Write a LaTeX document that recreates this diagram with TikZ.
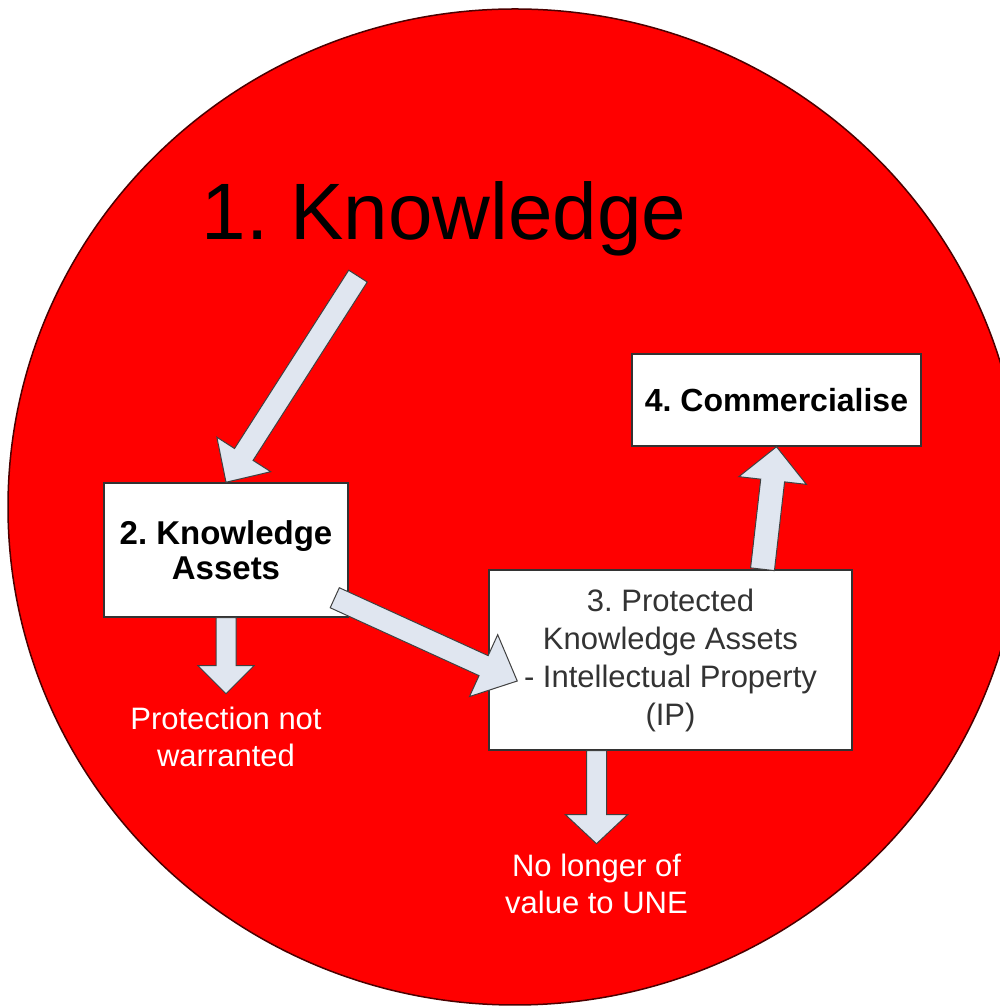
\documentclass[tikz,border=0pt]{standalone}
\usepackage{fontspec}
\setmainfont{Liberation Sans}
\usetikzlibrary{calc,positioning}
\frenchspacing

\definecolor{arrowfill}{HTML}{E0E6F0}
\definecolor{boxtext}{HTML}{333333}

% block arrow: from, to, shaft half width, head half width, head length
\newcommand{\blockarrow}[5]{%
  \coordinate (hb) at ($(#2)!#5!(#1)$);
  \draw[arrowbody] ($(#1)!#3!90:(#2)$) -- ($(hb)!#3!90:(#2)$)
    -- ($(hb)!#4!90:(#2)$) -- (#2) -- ($(hb)!#4!-90:(#2)$)
    -- ($(hb)!#3!-90:(#2)$) -- ($(#1)!#3!-90:(#2)$) -- cycle;
}

\begin{document}
\begin{tikzpicture}[x=1pt, y=1pt,
  box/.style={draw=black!80, line width=1.5pt, fill=white, align=center},
  arrowbody/.style={draw=black!75, line width=1pt, fill=arrowfill, line join=miter},
  outtext/.style={text=white, align=center, font=\fontsize{31}{37}\selectfont}]
  \useasboundingbox (0,0) rectangle (1000,1007);
  \clip (0,0) rectangle (1000,1007);
  \filldraw[fill=red, draw=black!70!red, line width=1.5pt] (515,500) ellipse [x radius=507, y radius=498];

  \node (know) [anchor=base, font=\fontsize{80}{82}\selectfont] at (444,767) {1. Knowledge};
  \node (kassets) [box, minimum width=244pt, minimum height=134pt,
    font=\bfseries\fontsize{33}{35}\selectfont] at (226,457) {2. Knowledge\\Assets};
  \node (ip) [box, minimum width=363pt, minimum height=180pt, text=boxtext,
    font=\fontsize{31}{38}\selectfont] at (670.5,347)
    {3. Protected\\Knowledge Assets\\- Intellectual Property\\(IP)};
  \node (comm) [box, minimum width=289pt, minimum height=92pt,
    font=\bfseries\fontsize{32}{35}\selectfont] at (776.5,607) {4. Commercialise};

  \coordinate (ktail) at ($(know.south)+(-86,-16)$);
  \coordinate (ptip) at ($(kassets.south)+(0,-76)$);
  \coordinate (ntip) at ($(ip.south)+(-74,-93)$);

  \node (notwarranted) [outtext, below=10pt of ptip] {Protection not\\warranted};
  \node (novalue) [outtext, below=7pt of ntip] {No longer of\\value to UNE};

  \blockarrow{ktail}{kassets.north}{11pt}{32pt}{33pt}
  \blockarrow{kassets.south}{ptip}{10pt}{28pt}{28pt}
  \blockarrow{$(kassets.south east)+(-14,20)$}{$(ip.west)+(29,-21)$}{11pt}{34pt}{37pt}
  \blockarrow{$(ip.north)+(92,0)$}{comm.south}{12pt}{34pt}{34pt}
  \blockarrow{$(ip.south)+(-74,0)$}{ntip}{10pt}{31pt}{29pt}
\end{tikzpicture}
\end{document}
